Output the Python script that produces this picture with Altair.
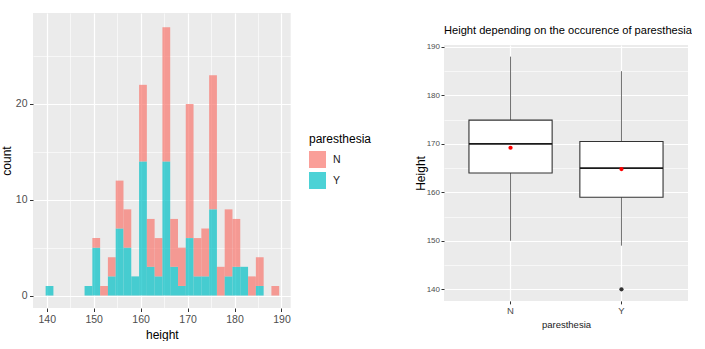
import altair as alt
import pandas as pd

# ---------------- data: histogram (left) ----------------
bin_centers = [140.60, 142.26, 143.92, 145.57, 147.23, 148.89, 150.55, 152.21,
               153.86, 155.52, 157.18, 158.84, 160.50, 162.15, 163.81, 165.47,
               167.13, 168.79, 170.44, 172.10, 173.76, 175.42, 177.08, 178.73,
               180.39, 182.05, 183.71, 185.37, 187.02, 188.68]
count_Y = [1, 0, 0, 0, 0, 1, 5, 0, 2, 7, 5, 2, 14, 3, 2, 14,
           3, 1, 6, 2, 2, 9, 0, 2, 3, 3, 0, 1, 0, 0]
count_N = [0, 0, 0, 0, 0, 0, 1, 1, 2, 5, 4, 0, 8, 5, 4, 14,
           5, 4, 14, 4, 5, 14, 3, 7, 5, 0, 2, 3, 0, 1]
bin_width = 1.658

hist_x_ticks = [140, 145, 150, 155, 160, 165, 170, 175, 180, 185, 190]
hist_y_ticks = [0, 5, 10, 15, 20, 25]

# ---------------- data: boxplot (right) ----------------
groups = ["N", "Y"]
q1 = [164.0, 159.0]
median = [170.0, 165.0]
q3 = [174.9, 170.5]
whisk_lo = [150.0, 149.0]
whisk_hi = [188.0, 185.0]
means = [169.2, 164.8]
outlier_group = ["Y"]
outlier_value = [140.0]
box_y_ticks = [140, 145, 150, 155, 160, 165, 170, 175, 180, 185, 190]

FONT = "Liberation Sans"
GREY_BG = "#EBEBEB"
LABEL_COL = "#4D4D4D"
TICK_COL = "#333333"

major10 = "datum.value % 10 === 0"
grid_w = {"condition": {"test": major10, "value": 1.2}, "value": 0.6}
tick_op = {"condition": {"test": major10, "value": 1}, "value": 0}

# ---------------- left: stacked histogram ----------------
rows = []
for c, y, n in zip(bin_centers, count_Y, count_N):
    lo, hi = c - bin_width / 2, c + bin_width / 2
    if y > 0:
        rows.append({"lo": lo, "hi": hi, "y0": 0, "y1": y, "paresthesia": "Y"})
    if n > 0:
        rows.append({"lo": lo, "hi": hi, "y0": y, "y1": y + n, "paresthesia": "N"})
hist_df = pd.DataFrame(rows)

hist_bars = alt.Chart(hist_df).mark_rect(opacity=0.7).encode(
    x=alt.X("lo:Q",
            scale=alt.Scale(domain=[137.08, 191.96], nice=False, zero=False),
            axis=alt.Axis(values=hist_x_ticks, title="height",
                          labelExpr="datum.value % 10 === 0 ? datum.label : ''",
                          grid=True, gridColor="white", gridWidth=grid_w,
                          tickOpacity=tick_op, tickColor=TICK_COL, tickSize=3.5,
                          domain=False, labelFont=FONT, labelFontSize=10.5,
                          labelColor=LABEL_COL, labelPadding=2.5,
                          titleFont=FONT, titleFontSize=12, titleFontWeight="normal",
                          titleColor="black", titlePadding=5)),
    x2="hi:Q",
    y=alt.Y("y0:Q",
            scale=alt.Scale(domain=[-1.3, 29.5], nice=False, zero=False),
            axis=alt.Axis(values=hist_y_ticks, title="count",
                          labelExpr="datum.value % 10 === 0 ? datum.label : ''",
                          grid=True, gridColor="white", gridWidth=grid_w,
                          tickOpacity=tick_op, tickColor=TICK_COL, tickSize=3.5,
                          domain=False, labelFont=FONT, labelFontSize=10.5,
                          labelColor=LABEL_COL, labelPadding=2.5,
                          titleFont=FONT, titleFontSize=12, titleFontWeight="normal",
                          titleColor="black", titlePadding=2)),
    y2="y1:Q",
    color=alt.Color("paresthesia:N",
                    scale=alt.Scale(domain=["N", "Y"], range=["#F8766D", "#00BFC4"]),
                    legend=alt.Legend(orient="none", legendX=276, legendY=121,
                                      title="paresthesia", titleFont=FONT,
                                      titleFontSize=12, titleFontWeight="normal",
                                      titleColor="black", titlePadding=5,
                                      labelFont=FONT, labelFontSize=10.5,
                                      labelColor="#1A1A1A", labelOffset=7,
                                      symbolType="square", symbolSize=289,
                                      symbolStrokeWidth=0, symbolOpacity=0.7,
                                      rowPadding=4, padding=0)),
)

# invisible anchor fixing the left edge of the whole figure
anchor = alt.Chart(pd.DataFrame({"a": [0]})).mark_rule(
    opacity=0, strokeWidth=1).encode(
    x=alt.value(-31.8), y=alt.value(100), y2=alt.value(101))

hist = alt.layer(hist_bars, anchor).properties(
    width=257.7, height=295, view=alt.ViewBackground(fill=GREY_BG, stroke=None))

# ---------------- right: boxplot ----------------
box_df = pd.DataFrame({"paresthesia": groups, "q1": q1, "median": median, "q3": q3,
                       "lo": whisk_lo, "hi": whisk_hi, "mean": means})
out_df = pd.DataFrame({"paresthesia": outlier_group, "value": outlier_value})

xs = alt.Scale(domain=groups, paddingInner=0.25, paddingOuter=0.225)
ys = alt.Scale(domain=[137.6, 190.4], nice=False, zero=False)

x_enc = alt.X("paresthesia:N", scale=xs,
              axis=alt.Axis(title="paresthesia", labelAngle=0, grid=True,
                            gridColor="white", gridWidth=1.2, tickColor=TICK_COL,
                            tickSize=3, domain=False, labelFont=FONT,
                            labelFontSize=9.5, labelColor=LABEL_COL, labelPadding=2,
                            titleFont=FONT, titleFontSize=9.5, titleFontWeight="normal",
                            titleColor="#1A1A1A", titlePadding=4))
y_axis = alt.Axis(values=box_y_ticks, title="Height",
                  labelExpr="datum.value % 10 === 0 ? datum.label : ''",
                  grid=True, gridColor="white", gridWidth=grid_w,
                  tickOpacity=tick_op, tickColor=TICK_COL, tickSize=3,
                  domain=False, labelFont=FONT, labelFontSize=8,
                  labelColor=LABEL_COL, labelPadding=1.5,
                  titleFont=FONT, titleFontSize=12, titleFontWeight="normal",
                  titleColor="black", titlePadding=-1)

base = alt.Chart(box_df)
whiskers = base.mark_rule(color="#707070", strokeWidth=1).encode(
    x=x_enc, y=alt.Y("lo:Q", scale=ys, axis=y_axis), y2="hi:Q")
boxes = base.mark_bar(fill="white", stroke="#333333", strokeWidth=1.1).encode(
    x=x_enc, y=alt.Y("q1:Q", scale=ys, axis=y_axis), y2="q3:Q")
medians = base.mark_bar(fill="white", stroke="#1A1A1A", strokeWidth=1.6).encode(
    x=x_enc, y=alt.Y("median:Q", scale=ys, axis=y_axis), y2="median:Q")
mean_pts = base.mark_point(filled=True, color="red", size=18, opacity=1).encode(
    x=x_enc, y=alt.Y("mean:Q", scale=ys, axis=y_axis))
outliers = alt.Chart(out_df).mark_point(filled=True, color="#333333", size=18,
                                        opacity=1).encode(
    x=x_enc, y=alt.Y("value:Q", scale=ys, axis=y_axis))

box = alt.layer(whiskers, boxes, medians, mean_pts, outliers).properties(
    width=244, height=255.9,
    title=alt.TitleParams("Height depending on the occurence of paresthesia",
                          anchor="start", frame="group", font=FONT, fontSize=11.1,
                          fontWeight="normal", color="black", offset=7),
    view=alt.ViewBackground(fill=GREY_BG, stroke=None))

spacer = alt.Chart(pd.DataFrame({"a": [0]})).mark_point(opacity=0).encode(
    x=alt.value(1), y=alt.value(1)).properties(width=244, height=31.4)

right = alt.vconcat(spacer, box, spacing=0, bounds="flush")

chart = alt.hconcat(hist, right, spacing=153, bounds="flush").properties(
    padding={"left": 0, "top": 11, "right": 0, "bottom": 0},
    background="white",
).configure_view(stroke=None)

chart.save("out.html", embed_options={"renderer": "svg", "actions": False})
